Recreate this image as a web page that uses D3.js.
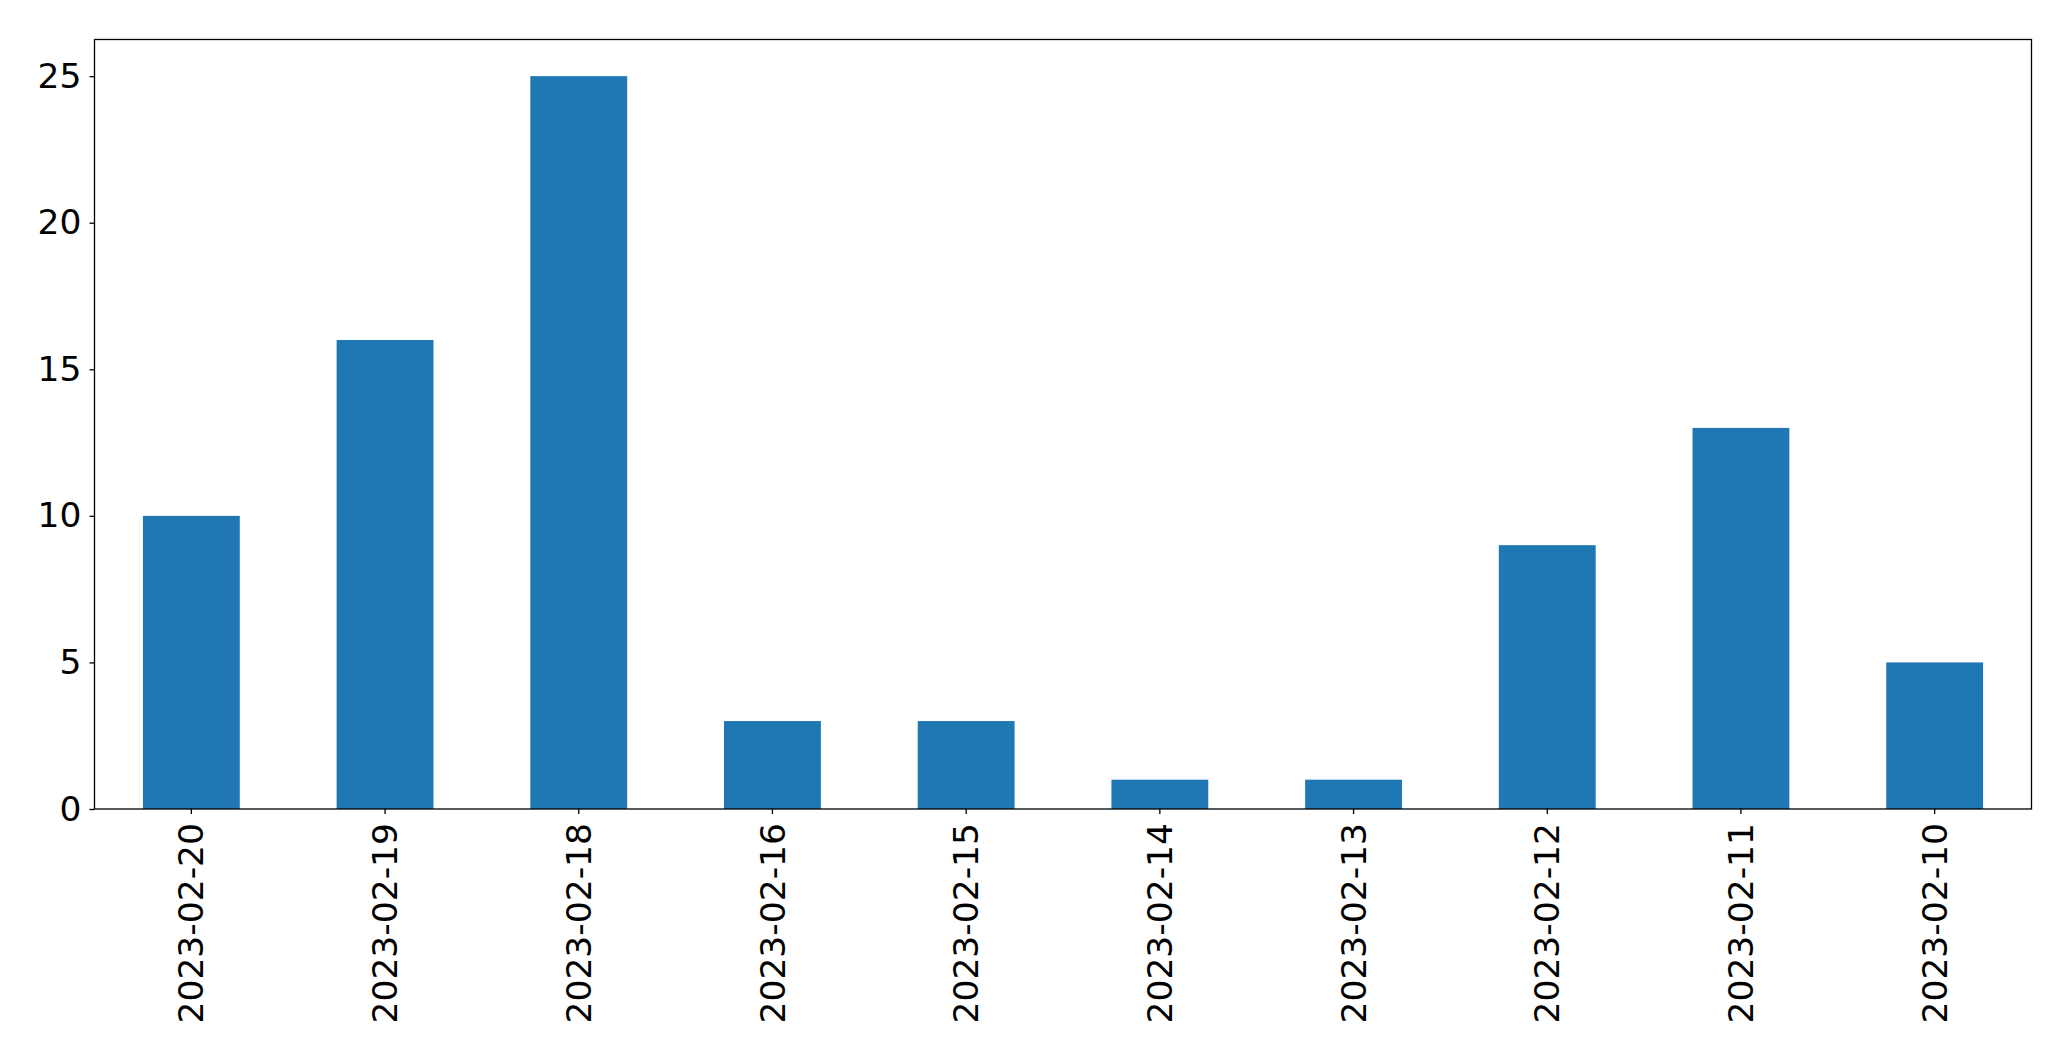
<!DOCTYPE html>
<html><head><meta charset="utf-8">
<script src="https://cdn.jsdelivr.net/npm/d3@7"></script>
<style>body{margin:0;background:#fff}svg{display:block}</style>
</head><body>
<script>
const categories = ["2023-02-20","2023-02-19","2023-02-18","2023-02-16","2023-02-15","2023-02-14","2023-02-13","2023-02-12","2023-02-11","2023-02-10"];
const values = [10,16,25,3,3,1,1,9,13,5];
const yTicks = [0,5,10,15,20,25];

const W = 2071, H = 1061;
const m = {left: 94.5, right: 2031.5, top: 39.5, bottom: 809};
const svg = d3.select("body").append("svg").attr("width", W).attr("height", H);

const x = d3.scaleBand().domain(categories).range([m.left, m.right]).paddingInner(0.5).paddingOuter(0.25);
const y = d3.scaleLinear().domain([0, 25 * 1.05]).range([m.bottom, m.top]);

svg.append("g").selectAll("rect").data(values).join("rect")
  .attr("x", (d, i) => x(categories[i]))
  .attr("width", x.bandwidth())
  .attr("y", d => y(d))
  .attr("height", d => y(0) - y(d))
  .attr("fill", "#1f77b4");

const font = "DejaVu Sans, sans-serif";
const fs = 34.5;
const yAxis = svg.append("g").attr("transform", `translate(${m.left},0)`)
  .call(d3.axisLeft(y).tickValues(yTicks).tickSize(5).tickPadding(8));
yAxis.select(".domain").remove();
yAxis.selectAll("text").attr("font-size", fs).attr("font-family", font).attr("fill", "#000");
yAxis.selectAll("line").attr("stroke", "#000").attr("stroke-width", 1.3);

const xAxis = svg.append("g").attr("transform", `translate(0,${m.bottom})`)
  .call(d3.axisBottom(x).tickSize(5).tickPadding(0));
xAxis.select(".domain").remove();
xAxis.selectAll("line").attr("stroke", "#000").attr("stroke-width", 1.3);
xAxis.selectAll("text")
  .attr("font-size", fs).attr("font-family", font).attr("fill", "#000")
  .attr("text-anchor", "end")
  .attr("transform", "translate(0,14) rotate(-90)")
  .attr("x", 0).attr("y", 0).attr("dy", "0.35em");

svg.append("rect").attr("x", m.left).attr("y", m.top)
  .attr("width", m.right - m.left).attr("height", m.bottom - m.top)
  .attr("fill", "none").attr("stroke", "#000").attr("stroke-width", 1.3);
</script>
</body></html>
